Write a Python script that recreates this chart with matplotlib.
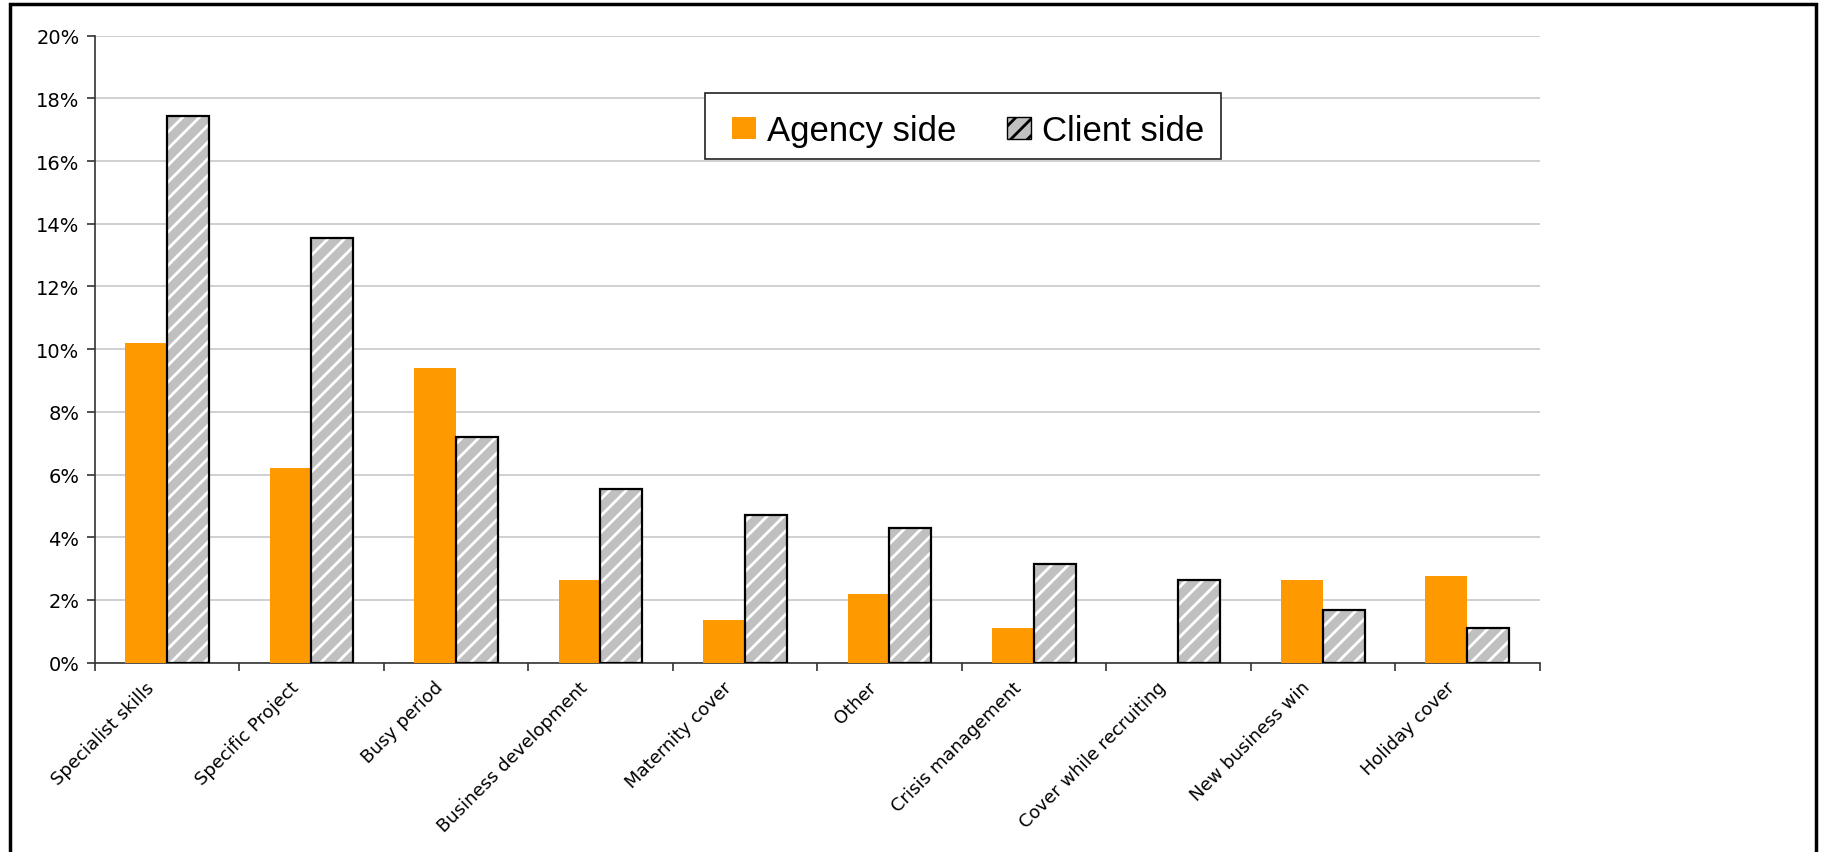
import matplotlib
matplotlib.use("Agg")
import matplotlib.pyplot as plt
import numpy as np
from matplotlib.patches import Rectangle, Patch
from matplotlib.ticker import FuncFormatter, MultipleLocator
from matplotlib.transforms import ScaledTranslation

categories = ["Specialist skills", "Specific Project", "Busy period", "Business development",
              "Maternity cover", "Other", "Crisis management", "Cover while recruiting",
              "New business win", "Holiday cover"]
agency = [10.2, 6.2, 9.4, 2.65, 1.35, 2.2, 1.1, 0.0, 2.65, 2.75]
client = [17.45, 13.55, 7.2, 5.55, 4.7, 4.28, 3.15, 2.65, 1.68, 1.1]
series_names = ["Agency side", "Client side"]

plt.rcParams['hatch.linewidth'] = 2.0
plt.rcParams['hatch.color'] = 'white'

fig = plt.figure(figsize=(18.22, 8.53), dpi=100)
ax = fig.add_axes([0.052, 0.222, 0.793, 0.735])

x = np.arange(len(categories))
w = 0.29
orange = '#FF9900'
gray = '#C0C0C0'

ax.bar(x - w/2, agency, width=w, color=orange, edgecolor='none', zorder=3)
ax.bar(x + w/2, client, width=w, color=gray, edgecolor='white', hatch='//', linewidth=0, zorder=3)
ax.bar(x + w/2, client, width=w, fill=False, edgecolor='black', linewidth=1.6, zorder=4)

ax.set_xlim(-0.5, len(categories) - 0.5)
ax.set_ylim(0, 20)
ax.yaxis.set_major_locator(MultipleLocator(2))
ax.yaxis.set_major_formatter(FuncFormatter(lambda v, p: f"{int(round(v))}%"))
ax.grid(axis='y', color='#c8c8c8', linewidth=1.2, zorder=0)
ax.set_axisbelow(True)

for s in ['top', 'right']:
    ax.spines[s].set_visible(False)
for s in ['left', 'bottom']:
    ax.spines[s].set_color('#333333')
    ax.spines[s].set_linewidth(1.2)

ax.set_xticks(x)
ax.set_xticklabels(categories, rotation=45, ha='right', va='top', rotation_mode='anchor',
                   fontsize=13, family='DejaVu Sans')
ax.tick_params(axis='x', which='major', length=0, pad=11)
shift = ScaledTranslation(-22/100, 0, fig.dpi_scale_trans)
for lab in ax.get_xticklabels():
    lab.set_transform(lab.get_transform() + shift)
ax.set_xticks(np.arange(-0.5, len(categories)), minor=True)
ax.tick_params(axis='x', which='minor', length=6, width=1.2, color='#333333', direction='out')
ax.tick_params(axis='y', length=6, width=1.2, color='#333333', labelsize=14, pad=5)

# legend frame
frame = Rectangle((0.4225, 0.8038), 0.7792 - 0.4225, 0.9086 - 0.8038, transform=ax.transAxes,
                  facecolor='white', edgecolor='#222222', linewidth=1.2, zorder=5)
ax.add_patch(frame)

handles = [Patch(facecolor=orange, edgecolor='none'),
           Patch(facecolor=gray, edgecolor='black', hatch='//', linewidth=1)]
leg = ax.legend(handles, series_names, loc='center left', bbox_to_anchor=(0.4408, 0.849),
                ncol=2, frameon=False,
                prop={'family': 'Liberation Sans', 'size': 25},
                handlelength=0.69, handleheight=0.6, handletextpad=0.32,
                columnspacing=1.47, borderpad=0, borderaxespad=0)
leg.set_zorder(6)

border = Rectangle((10/1822, -0.05), (1816-10)/1822, 1 - 5/853 + 0.05, transform=fig.transFigure,
                   fill=False, edgecolor='black', linewidth=2.5, clip_on=False)
fig.patches.append(border)

fig.savefig("out.png", dpi=100)
